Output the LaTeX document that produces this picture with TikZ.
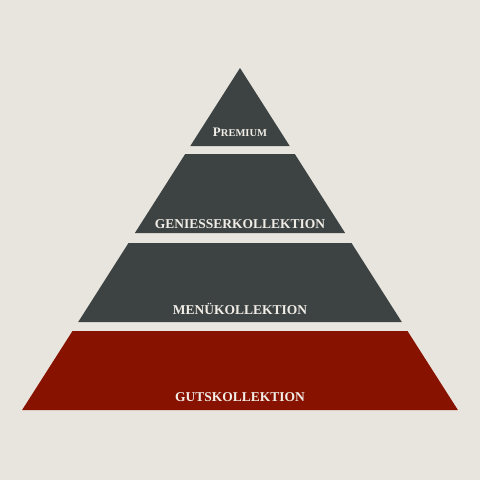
\documentclass[tikz,border=0pt]{standalone}
\usepackage{fontspec}
\setmainfont{Liberation Serif}
\definecolor{bg}{HTML}{E8E5DF}
\definecolor{slate}{HTML}{3D4343}
\definecolor{wine}{HTML}{871200}
\definecolor{txt}{HTML}{F0ECE6}
\begin{document}
\begin{tikzpicture}[x=1pt,y=-1pt,
  lbl/.style={anchor=base,inner sep=0pt,text=txt,font=\bfseries\fontsize{13.5}{14}\selectfont}]
\useasboundingbox (0,0) rectangle (480,480);
\fill[bg] (0,0) rectangle (480,480);
% tiers
\fill[slate] (240,68) -- (289.7,146) -- (190.3,146) -- cycle;
\fill[slate] (185.2,154) -- (294.8,154) -- (345.1,233) -- (134.9,233) -- cycle;
\fill[slate] (128.5,243) -- (351.5,243) -- (401.8,322) -- (78.2,322) -- cycle;
\fill[wine] (72.5,331) -- (407.5,331) -- (457.9,410) -- (22.1,410) -- cycle;
% labels
\node[lbl] (premium) at (240,136.5) {{\fontsize{13}{14}\selectfont P}{\fontsize{10.5}{11}\selectfont REMIUM}};
\node[lbl] (geniesser) at (240,228) {GENIESSERKOLLEKTION};
\node[lbl] (menue) at (240,314) {MENÜKOLLEKTION};
\node[lbl] (guts) at (240,401) {GUTSKOLLEKTION};
\end{tikzpicture}
\end{document}
